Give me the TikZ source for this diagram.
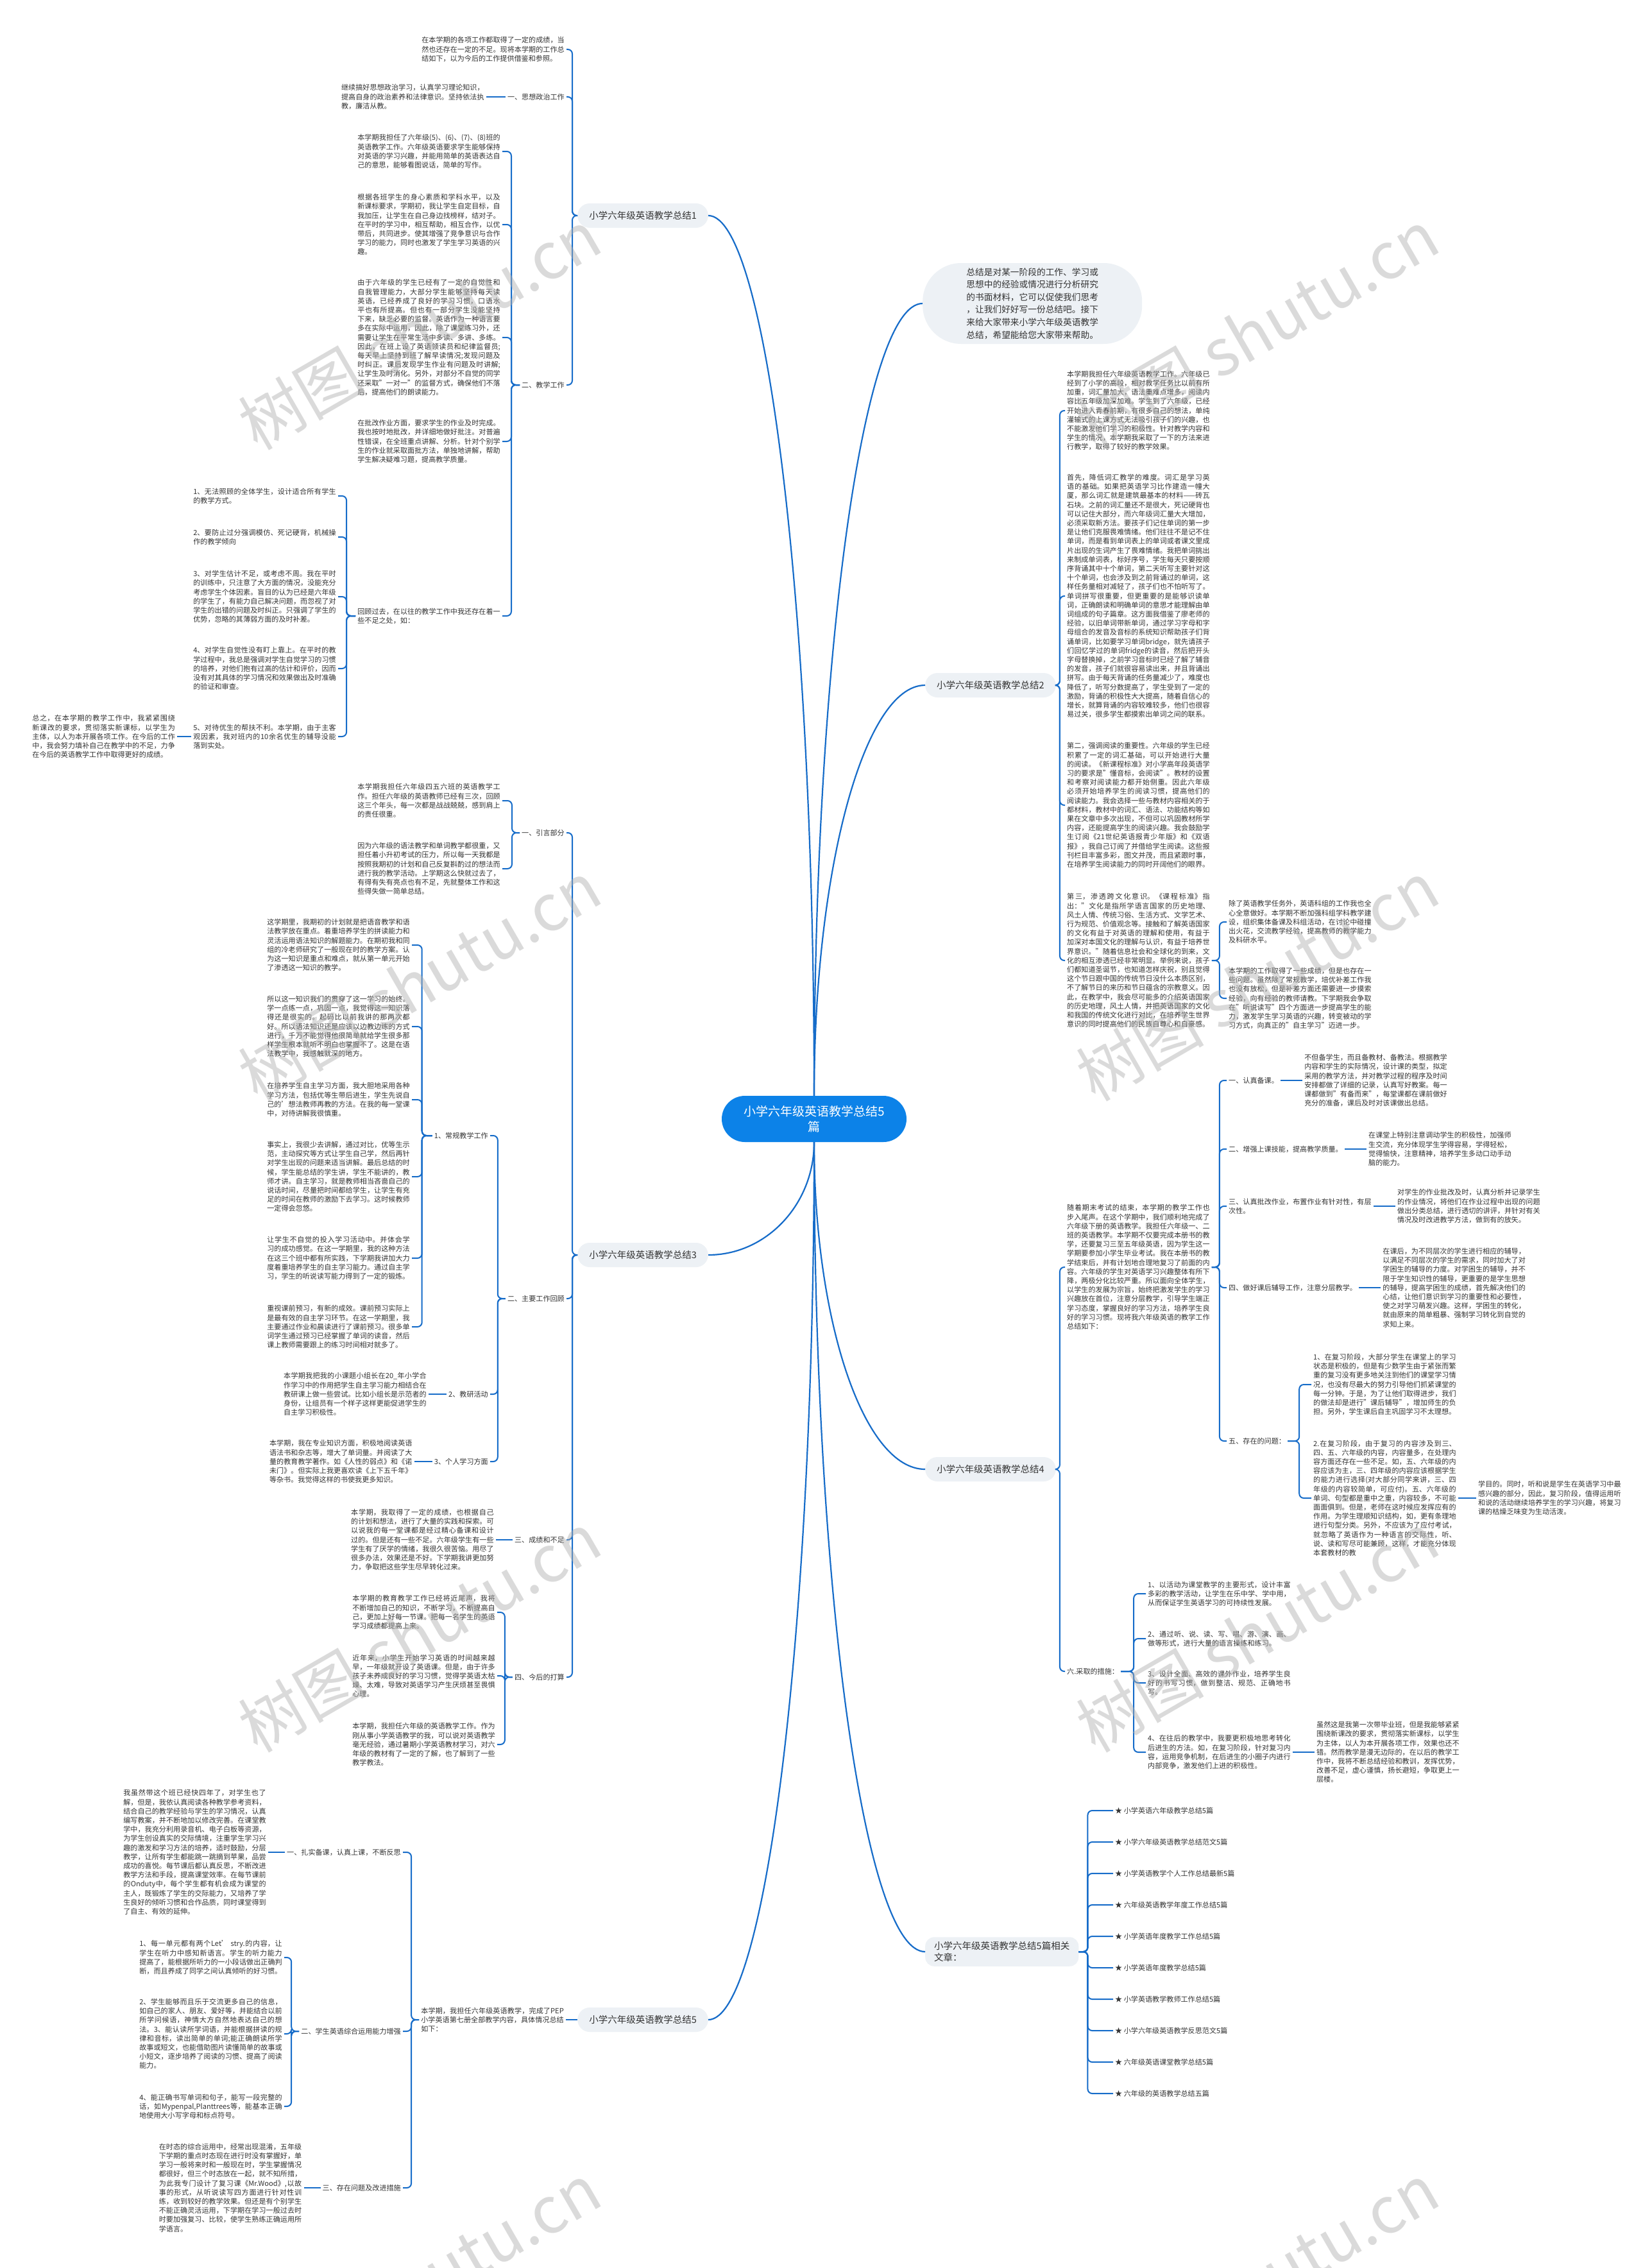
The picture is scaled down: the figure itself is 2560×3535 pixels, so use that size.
\documentclass[tikz,border=0pt]{standalone}
\usepackage{fontspec}
\setmainfont{Noto Sans CJK SC}
\usepackage{tikz}
\usetikzlibrary{positioning,calc}
\XeTeXlinebreaklocale "zh"
\XeTeXlinebreakskip=0pt plus 1pt
\definecolor{linkblue}{RGB}{22,108,201}
\definecolor{rootblue}{RGB}{12,130,232}
\definecolor{pillbg}{RGB}{237,241,245}
\definecolor{bodytext}{RGB}{51,51,51}
\definecolor{markgray}{RGB}{175,175,175}
\newcommand\bodysize{\fontsize{11.1}{14.2}\selectfont}
\newcommand\pillsize{\fontsize{14.5}{18}\selectfont}
\newcommand\hubsize{\fontsize{19}{24}\selectfont}
\newcommand\introsize{\fontsize{13.7}{19.6}\selectfont}

\begin{document}
\begin{tikzpicture}[
  x=1pt, y=-1pt,
  % Paragraph block, 20 characters wide
  para/.style  = {text width=222.5pt, align=justify, font=\bodysize,
                  text=bodytext, inner xsep=3pt, inner ysep=1pt},
  % Short heading
  lbl/.style   = {font=\bodysize, text=bodytext, inner xsep=3pt, inner ysep=2pt},
  % Branch title
  pill/.style  = {fill=pillbg, rounded corners=19pt, minimum height=38pt,
                  inner xsep=18pt, font=\pillsize, text=bodytext},
  % Central topic
  hub/.style   = {fill=rootblue, text=white, rounded corners=36pt,
                  minimum width=288pt, minimum height=72pt, align=center, font=\hubsize},
  bubble/.style= {fill=pillbg, rounded corners=60pt, minimum width=342pt,
                  minimum height=126pt, align=left, font=\introsize, text=bodytext},
  link/.style  = {draw=linkblue, line width=2pt, rounded corners=7pt},
  trunk/.style = {draw=linkblue, line width=2.2pt},
  wmark/.style = {font=\fontsize{100}{100}\selectfont, text=markgray,
                  rotate=30, opacity=0.45}
]
\fill[white] (0,0) rectangle (2560,3535);
\useasboundingbox (0,0) rectangle (2560,3535);

% Central topic
\node[hub] (hub) at (1269,1744) {小学六年级英语教学总结5\\篇};

% ---------- Branch 1 ----------
\node[pill, anchor=east] (B1) at (1104,336) {小学六年级英语教学总结1};
\node[para, anchor=east] (a) at (883,77) {在本学期的各项工作都取得了一定的成绩，当然也还存在一定的不足。现将本学期的工作总结如下，以为今后的工作提供借鉴和参照。};
\node[lbl, anchor=east] (L1) at (883,151) {一、思想政治工作};
\node[para, left=30pt of L1] (a1) {继续搞好思想政治学习，认真学习理论知识，提高自身的政治素养和法律意识。坚持依法执教，廉洁从教。};
\node[lbl, anchor=east] (L2) at (883,600) {二、教学工作};
\node[para, anchor=east] (c1) at (783,236) {本学期我担任了六年级(5)、(6)、(7)、(8)班的英语教学工作。六年级英语要求学生能够保持对英语的学习兴趣，并能用简单的英语表达自己的意思，能够看图说话，简单的写作。};
\node[para, anchor=east] (c2) at (783,350) {根据各班学生的身心素质和学科水平，以及新课标要求，学期初，我让学生自定目标，自我加压，让学生在自己身边找榜样，结对子。在平时的学习中，相互帮助，相互合作，以优带后，共同进步。使其增强了竞争意识与合作学习的能力，同时也激发了学生学习英语的兴趣。};
\node[para, anchor=east] (c3) at (783,526) {由于六年级的学生已经有了一定的自觉性和自我管理能力，大部分学生能够坚持每天读英语，已经养成了良好的学习习惯，口语水平也有所提高。但也有一部分学生没能坚持下来，缺乏必要的监督。英语作为一种语言要多在实际中运用，因此，除了课堂练习外，还需要让学生在平常生活中多读、多讲、多练。因此，在班上设了英语领读员和纪律监督员;每天早上坚持到班了解早读情况;发现问题及时纠正。课后发现学生作业有问题及时讲解;让学生及时消化。另外，对部分不自觉的同学还采取"一对一"的监督方式，确保他们不落后，提高他们的朗读能力。};
\node[para, anchor=east] (c4) at (783,688) {在批改作业方面，要求学生的作业及时完成。我也按时地批改，并详细地做好批注。对普遍性错误，在全班重点讲解、分析。针对个别学生的作业就采取面批方法，单独地讲解，帮助学生解决疑难习题，提高教学质量。};
\node[para, anchor=east] (c5) at (783,960) {回顾过去，在以往的教学工作中我还存在着一些不足之处，如：};
\node[para, anchor=east] (i1) at (527,773) {1、无法照顾的全体学生，设计适合所有学生的教学方式。};
\node[para, anchor=east] (i2) at (527,837) {2、要防止过分强调模仿、死记硬背，机械操作的教学倾向};
\node[para, anchor=east] (i3) at (527,930) {3、对学生估计不足，或考虑不周。我在平时的训练中，只注意了大方面的情况，没能充分考虑学生个体因素。盲目的认为已经是六年级的学生了，有能力自己解决问题，而忽视了对学生的出错的问题及时纠正。只强调了学生的优势，忽略的其薄弱方面的及时补差。};
\node[para, anchor=east] (i4) at (527,1042) {4、对学生自觉性没有盯上靠上。在平时的教学过程中，我总是强调对学生自觉学习的习惯的培养，对他们抱有过高的估计和评价，因而没有对其具体的学习情况和效果做出及时准确的验证和审查。};
\node[para, anchor=east] (i5) at (527,1148) {5、对待优生的帮扶不利。本学期，由于主客观因素，我对班内的10余名优生的辅导没能落到实处。};
\node[para, left=22pt of i5] (sum) {总之，在本学期的教学工作中，我紧紧围绕新课改的要求，贯彻落实新课标，以学生为主体，以人为本开展各项工作。在今后的工作中，我会努力填补自己在教学中的不足，力争在今后的英语教学工作中取得更好的成绩。};

\foreach \c in {a,L1,L2} \draw[link] (B1.west) -- ++(-8,0) |- (\c.east);
\draw[link] (L1.west) -- (a1.east);
\foreach \c in {c1,c2,c3,c4,c5} \draw[link] (L2.west) -- ++(-13,0) |- (\c.east);
\foreach \c in {i1,i2,i3,i4,i5} \draw[link] (c5.west) -- ++(-14,0) |- (\c.east);
\draw[link] (i5.west) -- (sum.east);

% ---------- Branch 3 ----------
\node[pill, anchor=east] (B3) at (1104,1956) {小学六年级英语教学总结3};
\node[lbl, anchor=east] (M1) at (883,1298) {一、引言部分};
\node[lbl, anchor=east] (M2) at (883,2024) {二、主要工作回顾};
\node[lbl, anchor=east] (M3) at (883,2400) {三、成绩和不足};
\node[lbl, anchor=east] (M4) at (883,2614) {四、今后的打算};
\node[para, anchor=east] (n1) at (783,1248) {本学期我担任六年级四五六班的英语教学工作。担任六年级的英语教师已经有三次，回顾这三个年头，每一次都是战战兢兢，感到肩上的责任很重。};
\node[para, anchor=east] (n2) at (783,1354) {因为六年级的语法教学和单词教学都很重，又担任着小升初考试的压力，所以每一天我都是按照我期初的计划和自己反复斟酌过的想法而进行我的教学活动。上学期这么快就过去了，有得有失有亮点也有不足，先就整体工作和这些得失做一简单总结。};
\node[lbl, anchor=east] (P1) at (764,1770) {1、常规教学工作};
\node[lbl, anchor=east] (P2) at (764,2173) {2、教研活动};
\node[lbl, anchor=east] (P3) at (764,2278) {3、个人学习方面};
\node[para, anchor=east] (p1) at (642,1473) {这学期里，我期初的计划就是把语音教学和语法教学放在重点。着重培养学生的拼读能力和灵活运用语法知识的解题能力。在期初我和同组的冷老师研究了一般现在时的教学方案。认为这一知识是重点和难点，就从第一单元开始了渗透这一知识的教学。};
\node[para, anchor=east] (p2) at (642,1600) {所以这一知识我们的贯穿了这一学习的始终。学一点练一点，巩固一点，我觉得这一知识落得还是很实的。起码比以前我讲的那两次都好。所以语法知识还是应该以边教边练的方式进行，千万不能觉得他很简单就给学生很多那样学生根本就听不明白也掌握不了。这是在语法教学中，我感触就深的地方。};
\node[para, anchor=east] (p3) at (642,1714) {在培养学生自主学习方面，我大胆地采用各种学习方法，包括优等生带后进生，学生先说自己的'想法教师再教的方法。在我的每一堂课中，对待讲解我很慎重。};
\node[para, anchor=east] (p4) at (642,1834) {事实上，我很少去讲解，通过对比，优等生示范，主动探究等方式让学生自己学，然后再针对学生出现的问题来适当讲解。最后总结的时候，学生能总结的学生讲，学生不能讲的，教师才讲。自主学习，就是教师相当吝啬自己的说话时间，尽量把时间都给学生，让学生有充足的时间在教师的激励下去学习。这时候教师一定得会忽悠。};
\node[para, anchor=east] (p5) at (642,1961) {让学生不自觉的投入学习活动中。并体会学习的成功感觉。在这一学期里，我的这种方法在这三个班中都有所实践，下学期我讲加大力度着重培养学生的自主学习能力。通过自主学习，学生的听说读写能力得到了一定的锻炼。};
\node[para, anchor=east] (p6) at (642,2068) {重视课前预习，有新的成效。课前预习实际上是最有效的自主学习环节。在这一学期里，我主要通过作业和晨读进行了课前预习。很多单词学生通过预习已经掌握了单词的读音，然后课上教师需要跟上的练习时间相对就多了。};
\node[para, left=28pt of P2] (P2c) {本学期我把我的小课题小组长在20\_年小学合作学习中的作用把学生自主学习能力相结合在教研课上做一些尝试。比如小组长是示范者的身份，让组员有一个样子这样更能促进学生的自主学习积极性。};
\node[para, left=28pt of P3] (P3c) {本学期，我在专业知识方面，积极地阅读英语语法书和杂志等，增大了单词量。并阅读了大量的教育教学著作。如《人性的弱点》和《诺未门》。但实际上我更喜欢读《上下五千年》等杂书。我觉得这样的书使我更多知识。};
\node[para, left=26pt of M3] (M3c) {本学期，我取得了一定的成绩，也根据自己的计划和想法，进行了大量的实践和探索。可以说我的每一堂课都是经过精心备课和设计过的。但是还有一些不足。六年级学生有一些学生有了厌学的情绪，我很久很苦恼。用尽了很多办法，效果还是不好。下学期我讲更加努力，争取把这些学生尽早转化过来。};
\node[para, anchor=east] (q1) at (775,2513) {本学期的教育教学工作已经将近尾声，我将不断增加自己的知识，不断学习，不断提高自己，更加上好每一节课。把每一名学生的英语学习成绩都提高上来。};
\node[para, anchor=east] (q2) at (775,2612) {近年来，小学生开始学习英语的时间越来越早，一年级就开设了英语课。但是，由于许多孩子未养成良好的学习习惯，觉得学英语太枯燥、太难，导致对英语学习产生厌烦甚至畏惧心理。};
\node[para, anchor=east] (q3) at (775,2719) {本学期，我担任六年级的英语教学工作。作为刚从事小学英语教学的我，可以说对英语教学毫无经验，通过暑期小学英语教材学习，对六年级的教材有了一定的了解，也了解到了一些教学教法。};

\foreach \c in {M1,M2,M3,M4} \draw[link] (B3.west) -- ++(-8,0) |- (\c.east);
\foreach \c in {n1,n2} \draw[link] (M1.west) -- ++(-12,0) |- (\c.east);
\foreach \c in {P1,P2,P3} \draw[link] (M2.west) -- ++(-12,0) |- (\c.east);
\foreach \c in {p1,p2,p3,p4,p5,p6} \draw[link] (P1.west) -- ++(-16,0) |- (\c.east);
\draw[link] (P2.west) -- (P2c.east);
\draw[link] (P3.west) -- (P3c.east);
\draw[link] (M3.west) -- (M3c.east);
\foreach \c in {q1,q2,q3} \draw[link] (M4.west) -- ++(-12,0) |- (\c.east);

% ---------- Branch 5 ----------
\node[pill, anchor=east] (B5) at (1104,3148) {小学六年级英语教学总结5};
\node[para, anchor=east] (s0) at (882,3148) {本学期，我担任六年级英语教学，完成了PEP小学英语第七册全部教学内容，具体情况总结如下：};
\node[lbl, anchor=east] (T1) at (628,2887) {一、扎实备课，认真上课，不断反思};
\node[lbl, anchor=east] (T2) at (628,3166) {二、学生英语综合运用能力增强};
\node[lbl, anchor=east] (T3) at (628,3410) {三、存在问题及改进措施};
\node[para, left=26pt of T1] (t1) {我虽然带这个班已经快四年了，对学生也了解，但是，我依认真阅读各种教学参考资料，结合自己的教学经验与学生的学习情况，认真编写教案，并不断地加以修改完善。在课堂教学中，我充分利用录音机、电子白板等资源，为学生创设真实的交际情境，注重学生学习兴趣的激发和学习方法的培养，适时鼓励，分层教学，让所有学生都能跳一跳摘到苹果，品尝成功的喜悦。每节课后都认真反思，不断改进教学方法和手段，提高课堂效率。在每节课前的Onduty中，每个学生都有机会成为课堂的主人，既锻炼了学生的交际能力，又培养了学生良好的倾听习惯和合作品质，同时课堂得到了自主、有效的延伸。};
\node[para, anchor=east] (r1) at (443,3051) {1、每一单元都有两个Let’ stry.的内容，让学生在听力中感知新语言。学生的听力能力提高了，能根据所听力的一小段话做出正确判断，而且养成了同学之间认真倾听的好习惯。};
\node[para, anchor=east] (r2) at (443,3170) {2、学生能够而且乐于交流更多自己的信息，如自己的家人、朋友、爱好等，并能结合以前所学问候语，神情大方自然地表达自己的想法。3、能认读所学词语，并能根据拼读的规律和音标，读出简单的单词;能正确朗读所学故事或短文，也能借助图片读懂简单的故事或小短文，逐步培养了阅读的习惯、提高了阅读能力。};
\node[para, anchor=east] (r4) at (443,3283) {4、能正确书写单词和句子，能写一段完整的话，如Mypenpal,Planttrees等，能基本正确地使用大小写字母和标点符号。};
\node[para, left=26pt of T3] (t3) {在时态的综合运用中，经常出现混淆，五年级下学期的重点时态现在进行时没有掌握好，单学习一般将来时和一般现在时，学生掌握情况都很好，但三个时态放在一起，就不知所措，为此我专门设计了复习课《Mr.Wood》,以故事的形式，从听说读写四方面进行针对性训练，收到较好的教学效果。但还是有个别学生不能正确灵活运用，下学期在学习一般过去时时要加强复习、比较，使学生熟练正确运用所学语言。};

\draw[link] (B5.west) -- (s0.east);
\foreach \c in {T1,T2,T3} \draw[link] (s0.west) -- ++(-12,0) |- (\c.east);
\draw[link] (T1.west) -- (t1.east);
\foreach \c in {r1,r2,r4} \draw[link] (T2.west) -- ++(-12,0) |- (\c.east);
\draw[link] (T3.west) -- (t3.east);

% ---------- Intro bubble ----------
\node[bubble, anchor=west] (intro) at (1438,473) {总结是对某一阶段的工作、学习或\\思想中的经验或情况进行分析研究\\的书面材料，它可以促使我们思考\\，让我们好好写一份总结吧。接下\\来给大家带来小学六年级英语教学\\总结，希望能给您大家带来帮助。};

% ---------- Branch 2 ----------
\node[pill, anchor=west] (B2) at (1442,1068) {小学六年级英语教学总结2};
\node[para, anchor=west] (d1) at (1660,640) {本学期我担任六年级英语教学工作。六年级已经到了小学的高段，相对教学任务比以前有所加重，词汇量加大，语法重难点增多，阅读内容比五年级加深加难。学生到了六年级，已经开始进入青春前期，有很多自己的想法，单纯灌输式的上课方式无法吸引孩子们的兴趣，也不能激发他们学习的积极性。针对教学内容和学生的情况，本学期我采取了一下的方法来进行教学，取得了较好的教学效果。};
\node[para, anchor=west] (d2) at (1660,929) {首先，降低词汇教学的难度。词汇是学习英语的基础。如果把英语学习比作建造一幢大厦，那么词汇就是建筑最基本的材料——砖瓦石块。之前的词汇量还不是很大，死记硬背也可以记住大部分，而六年级词汇量大大增加，必须采取新方法。要孩子们记住单词的第一步是让他们克服畏难情绪。他们往往不是记不住单词，而是看到单词表上的单词或者课文里成片出现的生词产生了畏难情绪。我把单词挑出来制成单词表，标好序号，学生每天只要按顺序背诵其中十个单词，第二天听写主要针对这十个单词，也会涉及到之前背诵过的单词，这样任务量相对减轻了，孩子们也不怕听写了。单词拼写很重要，但更重要的是能够识读单词，正确朗读和明确单词的意思才能理解由单词组成的句子篇章。这方面我借鉴了廖老师的经验，以旧单词带新单词，通过学习字母和字母组合的发音及音标的系统知识帮助孩子们背诵单词，比如要学习单词bridge，就先请孩子们回忆学过的单词fridge的读音，然后把开头字母替换掉，之前学习音标时已经了解了辅音的发音，孩子们就很容易读出来，并且背诵出拼写。由于每天背诵的任务量减少了，难度也降低了，听写分数提高了，学生受到了一定的激励，背诵的积极性大大提高，随着自信心的增长，就算背诵的内容较难较多，他们也很容易过关，很多学生都摸索出单词之间的联系。};
\node[para, anchor=west] (d3) at (1660,1255) {第二，强调阅读的重要性。六年级的学生已经积累了一定的词汇基础，可以开始进行大量的阅读。《新课程标准》对小学高年段英语学习的要求是"懂音标，会阅读"。教材的设置和考察对阅读能力都开始侧重。因此六年级必须开始培养学生的阅读习惯，提高他们的阅读能力。我会选择一些与教材内容相关的于都材料，教材中的词汇、语法、功能结构等如果在文章中多次出现，不但可以巩固教材所学内容，还能提高学生的阅读兴趣。我会鼓励学生订阅《21世纪英语报青少年版》和《双语报》，我自己订阅了并借给学生阅读。这些报刊栏目丰富多彩，图文并茂，而且紧跟时事，在培养学生阅读能力的同时开阔他们的眼界。};
\node[para, anchor=west] (d4) at (1660,1497) {第三，渗透跨文化意识。《课程标准》指出："文化是指所学语言国家的历史地理、风土人情、传统习俗、生活方式、文学艺术、行为规范、价值观念等。接触和了解英语国家的文化有益于对英语的理解和使用，有益于加深对本国文化的理解与认识，有益于培养世界意识。"随着信息社会和全球化的到来，文化的相互渗透已经非常明显。举例来说，孩子们都知道圣诞节，也知道怎样庆祝，别且觉得这个节日跟中国的传统节日没什么本质区别，不了解节日的来历和节日蕴含的宗教意义。因此，在教学中，我会尽可能多的介绍英语国家的历史地理，风土人情，并把英语国家的文化和我国的传统文化进行对比，在培养学生世界意识的同时提高他们的民族自尊心和自豪感。};
\node[para, anchor=west] (e1) at (1912,1437) {除了英语教学任务外，英语科组的工作我也全心全意做好。本学期不断加强科组学科教学建设，组织集体备课及科组活动，在讨论中碰撞出火花，交流教学经验，提高教师的教学能力及科研水平。};
\node[para, anchor=west] (e2) at (1912,1556) {本学期的工作取得了一些成绩，但是也存在一些问题。虽然除了常规教学，培优补差工作我也没有放松，但是补差方面还需要进一步摸索经验，向有经验的教师请教。下学期我会争取在"听说读写"四个方面进一步提高学生的能力，激发学生学习英语的兴趣，转变被动的学习方式，向真正的"自主学习"迈进一步。};

\foreach \c in {d1,d2,d3,d4} \draw[link] (B2.east) -- ++(6,0) |- (\c.west);
\foreach \c in {e1,e2} \draw[link] (d4.east) -- ++(12,0) |- (\c.west);

% ---------- Branch 4 ----------
\node[pill, anchor=west] (B4) at (1442,2290) {小学六年级英语教学总结4};
\node[para, anchor=west] (f0) at (1660,1975) {随着期末考试的结束，本学期的教学工作也步入尾声。在这个学期中，我们顺利地完成了六年级下册的英语教学。我担任六年级一、二班的英语教学。本学期不仅要完成本册书的教学，还要复习三至五年级英语，因为学生这一学期要参加小学生毕业考试。我在本册书的教学结束后，并有计划地合理地复习了前面的内容。六年级的学生对英语学习兴趣整体有所下降，两极分化比较严重。所以面向全体学生，以学生的发展为宗旨，始终把激发学生的学习兴趣放在首位，注意分层教学，引导学生端正学习态度，掌握良好的学习方法，培养学生良好的学习习惯。现将我六年级英语的教学工作总结如下：};
\node[lbl, anchor=west] (h1) at (1912,1684) {一、认真备课。};
\node[lbl, anchor=west] (h2) at (1912,1791) {二、增强上课技能，提高教学质量。};
\node[para, anchor=west] (h3) at (1912,1880) {三、认真批改作业，布置作业有针对性，有层次性。};
\node[lbl, anchor=west] (h4) at (1912,2007) {四、做好课后辅导工作，注意分层教学。};
\node[lbl, anchor=west] (h5) at (1912,2246) {五、存在的问题：};
\node[para, right=34pt of h1] (h1c) {不但备学生，而且备教材、备教法。根据教学内容和学生的实际情况，设计课的类型，拟定采用的教学方法，并对教学过程的程序及时间安排都做了详细的记录，认真写好教案。每一课都做到"有备而来"，每堂课都在课前做好充分的准备，课后及时对该课做出总结。};
\node[para, right=34pt of h2] (h2c) {在课堂上特别注意调动学生的积极性，加强师生交流，充分体现学生学得容易，学得轻松，觉得愉快，注意精神，培养学生多动口动手动脑的能力。};
\node[para, right=34pt of h3] (h3c) {对学生的作业批改及时，认真分析并记录学生的作业情况，将他们在作业过程中出现的问题做出分类总结，进行透切的讲评，并针对有关情况及时改进教学方法，做到有的放矢。};
\node[para, right=34pt of h4] (h4c) {在课后，为不同层次的学生进行相应的辅导，以满足不同层次的学生的需求，同时加大了对学困生的辅导的力度。对学困生的辅导，并不限于学生知识性的辅导，更重要的是学生思想的辅导，提高学困生的成绩，首先解决他们的心结，让他们意识到学习的重要性和必要性，使之对学习萌发兴趣。这样，学困生的转化，就由原来的简单粗暴、强制学习转化到自觉的求知上来。};
\node[para, anchor=west] (k1) at (2044,2158) {1、在复习阶段，大部分学生在课堂上的学习状态是积极的，但是有少数学生由于紧张而繁重的复习没有更多地关注到他们的课堂学习情况，也没有尽最大的努力引导他们抓紧课堂的每一分钟。于是，为了让他们取得进步，我们的做法却是进行"课后辅导"，增加师生的负担。另外，学生课后自主巩固学习不太理想。};
\node[para, anchor=west] (k2) at (2044,2335) {2.在复习阶段，由于复习的内容涉及到三、四、五、六年级的内容，内容量多，在处理内容方面还存在一些不足。如，五、六年级的内容应该为主，三、四年级的内容应该根据学生的能力进行选择(对大部分同学来讲，三、四年级的内容较简单，可应付)。五、六年级的单词、句型都是重中之重，内容较多，不可能面面俱到。但是，老师在这时候应发挥应有的作用。为学生理顺知识结构，如，更有条理地进行句型分类。另外，不应该为了应付考试，就忽略了英语作为一种语言的交际性，听、说、读和写尽可能兼顾，这样，才能充分体现本套教材的教};
\node[para, right=28pt of k2] (k2c) {学目的。同时，听和说是学生在英语学习中最感兴趣的部分，因此，复习阶段，值得运用听和说的活动继续培养学生的学习兴趣，将复习课的枯燥乏味变为生动活泼。};
\node[lbl, anchor=west] (g) at (1660,2605) {六.采取的措施：};
\node[para, anchor=west] (m1) at (1786,2484) {1、以活动为课堂教学的主要形式，设计丰富多彩的教学活动，让学生在乐中学、学中用，从而保证学生英语学习的可持续性发展。};
\node[para, anchor=west] (m2) at (1786,2554) {2、通过听、说、读、写、唱、游、演、画、做等形式，进行大量的语言操练和练习。};
\node[para, anchor=west] (m3) at (1786,2623) {3、设计全面、高效的课外作业，培养学生良好的书写习惯，做到整洁、规范、正确地书写。};
\node[para, anchor=west] (m4) at (1786,2731) {4、在往后的教学中，我要更积极地思考转化后进生的方法。如，在复习阶段，针对复习内容，运用竞争机制，在后进生的小圈子内进行内部竞争，激发他们上进的积极性。};
\node[para, right=34pt of m4] (m4c) {虽然这是我第一次带毕业班，但是我能够紧紧围绕新课改的要求，贯彻落实新课标，以学生为主体，以人为本开展各项工作，效果也还不错。然而教学是漫无边际的，在以后的教学工作中，我将不断总结经验和教训，发挥优势，改善不足，虚心谨慎，扬长避短，争取更上一层楼。};

\foreach \c in {f0,g} \draw[link] (B4.east) -- ++(6,0) |- (\c.west);
\foreach \c in {h1,h2,h3,h4,h5} \draw[link] (f0.east) -- ++(12,0) |- (\c.west);
\foreach \c in {h1,h2,h3,h4} \draw[link] (\c.east) -- (\c c.west);
\foreach \c in {k1,k2} \draw[link] (h5.east) -- ++(18,0) |- (\c.west);
\draw[link] (k2.east) -- (k2c.west);
\foreach \c in {m1,m2,m3,m4} \draw[link] (g.east) -- ++(20,0) |- (\c.west);
\draw[link] (m4.east) -- (m4c.west);

% ---------- Related articles ----------
\node[pill, anchor=west, rounded corners=14pt, inner xsep=14pt, inner ysep=7pt,
      align=left] (rel) at (1442,3042) {小学六年级英语教学总结5篇相关\\文章：};
\foreach \t [count=\i] in {小学英语六年级教学总结5篇, 小学六年级英语教学总结范文5篇,
    小学英语教学个人工作总结最新5篇, 六年级英语教学年度工作总结5篇,
    小学英语年度教学工作总结5篇, 小学英语年度教学总结5篇,
    小学英语教学教师工作总结5篇, 小学六年级英语教学反思范文5篇,
    六年级英语课堂教学总结5篇, 六年级的英语教学总结五篇}{
  \node[lbl, anchor=west] (rel\i) at (1735,{2773+49*\i}) {★ \t};
  \draw[link] (rel.east) -- ++(14,0) |- (rel\i.west);
}

% ---------- Trunk connectors: out of the hub's top and bottom ----------
\foreach \s/\e in {north/B1.east, north/intro.west, north/B2.west,
                   south/B3.east, south/B4.west, south/rel.west, south/B5.east}
  \draw[trunk] (hub.\s) .. controls ($(hub.\s)!.55!(hub.\s|-\e)$)
                           and ($(\e)!.55!(hub.\s|-\e)$) .. (\e);

% Watermarks
\foreach \wy in {514,1529,2544,3559}{
  \node[wmark] at (654,\wy) {树图 shutu.cn};
  \node[wmark] at (1960,\wy) {树图 shutu.cn};
}
\end{tikzpicture}
\end{document}
